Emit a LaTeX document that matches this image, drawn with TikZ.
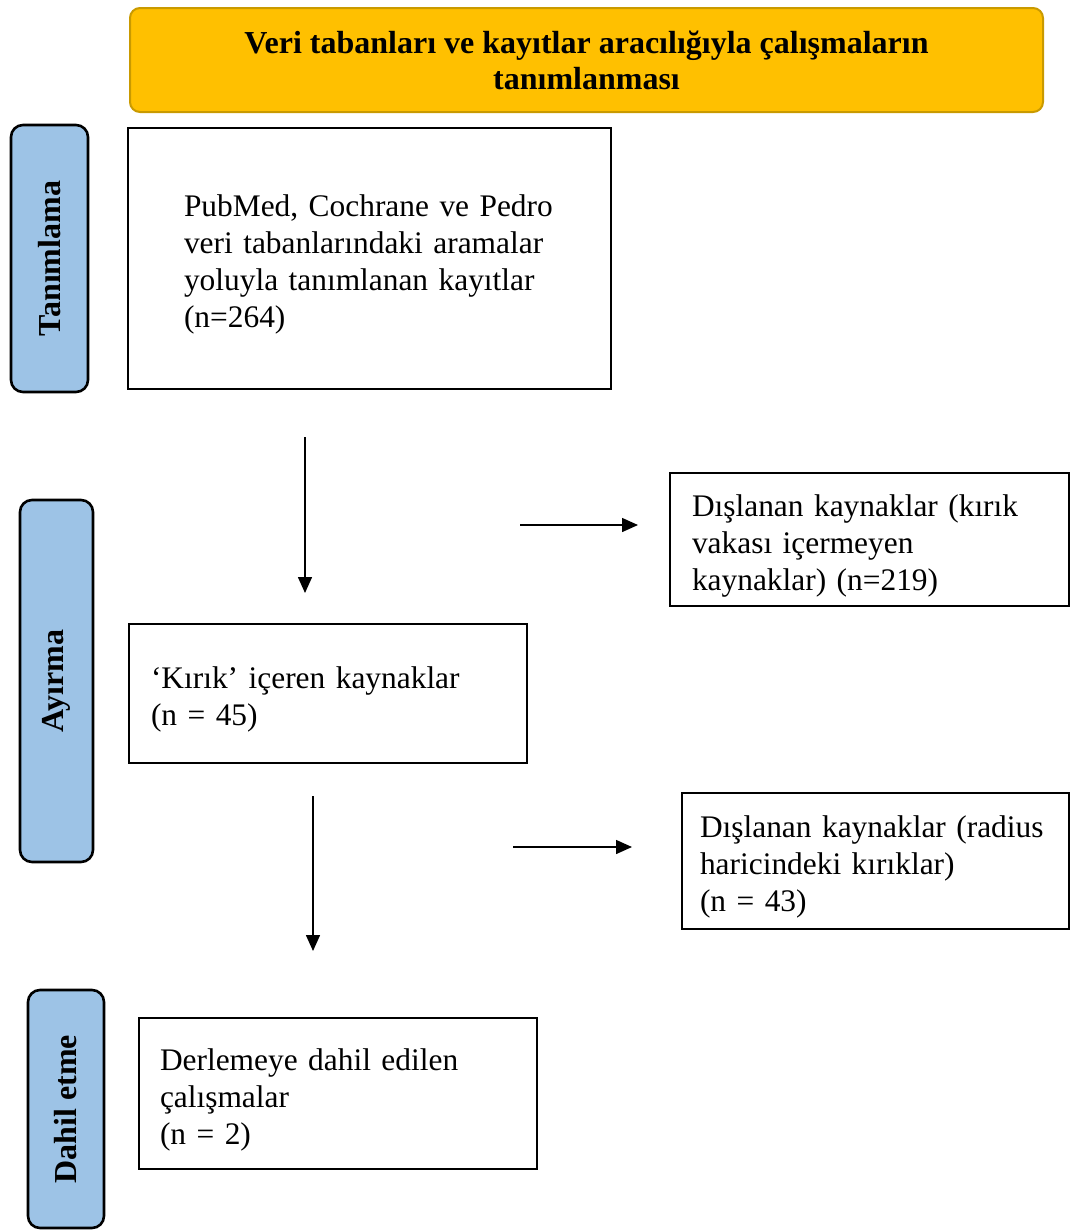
\documentclass[tikz,border=0pt]{standalone}
\usepackage{fontspec}
\setmainfont{Liberation Serif}
\usetikzlibrary{arrows.meta}
\definecolor{baslik}{HTML}{FFC000}
\definecolor{baslikcizgi}{HTML}{C99A00}
\definecolor{evre}{HTML}{9DC3E6}
\begin{document}
\begin{tikzpicture}[x=0.5pt,y=-0.5pt,
  kutu/.style={draw,line width=1pt,align=left,inner ysep=0pt,font=\fontsize{15.7}{18.5}\selectfont,execute at begin node={\rule{0pt}{17pt}}},
  evrekutu/.style={draw,fill=evre,line width=1.3pt,rounded corners=6pt,rotate=90,inner sep=0pt,font=\fontsize{16}{18.5}\selectfont\bfseries},
  ok/.style={line width=0.75pt,-{Triangle[length=8pt,width=7pt]}}]
\useasboundingbox (0,0) rectangle (1071,1232);
\node[draw=baslikcizgi,fill=baslik,line width=1pt,rounded corners=5pt,align=center,minimum width=456.5pt,minimum height=52pt,font=\fontsize{16}{18}\selectfont\bfseries] (baslik) at (586.5,60) {Veri tabanları ve kayıtlar aracılığıyla çalışmaların\\tanımlanması};
\node[evrekutu,minimum width=133.5pt,minimum height=38.5pt] (tanim) at (49.5,258.5) {Tanımlama};
\node[evrekutu,minimum width=181pt,minimum height=36.5pt] (ayir) at (56.5,681) {Ayırma};
\node[evrekutu,minimum width=119pt,minimum height=38pt] (dahil) at (66,1109) {Dahil etme};
\node[kutu,minimum width=241.5pt,minimum height=130.5pt,inner xsep=28pt,text width=185.5pt] (kayit) at (369.5,258.5) {\mbox{PubMed, Cochrane ve Pedro}\\veri tabanlarındaki aramalar\\yoluyla tanımlanan kayıtlar\\(n=264)};
\node[kutu,minimum width=199.5pt,minimum height=66.5pt,inner xsep=11pt,text width=177.5pt] (disla1) at (869.5,539.5) {Dışlanan kaynaklar (kırık\\vakası içermeyen\\kaynaklar) (n=219)};
\node[kutu,minimum width=199pt,minimum height=69.5pt,inner xsep=11pt,text width=177pt] (kirik) at (328,693.5) {‘Kırık’ içeren kaynaklar\\(n = 45)};
\node[kutu,minimum width=193.5pt,minimum height=68pt,inner xsep=9pt,text width=175.5pt] (disla2) at (875.5,861) {\mbox{Dışlanan kaynaklar (radius}\\haricindeki kırıklar)\\(n = 43)};
\node[kutu,minimum width=199pt,minimum height=75.5pt,inner xsep=10.5pt,text width=178pt] (dahiledilen) at (338,1093.5) {Derlemeye dahil edilen\\çalışmalar\\(n = 2)};
\coordinate (o1a) at (305,437);
\coordinate (o1b) at (305,593);
\coordinate (o2a) at (520,525);
\coordinate (o2b) at (638,525);
\coordinate (o3a) at (313,796);
\coordinate (o3b) at (313,951);
\coordinate (o4a) at (513,847);
\coordinate (o4b) at (632,847);
\draw[ok] (o1a) -- (o1b);
\draw[ok] (o2a) -- (o2b);
\draw[ok] (o3a) -- (o3b);
\draw[ok] (o4a) -- (o4b);
\end{tikzpicture}
\end{document}
